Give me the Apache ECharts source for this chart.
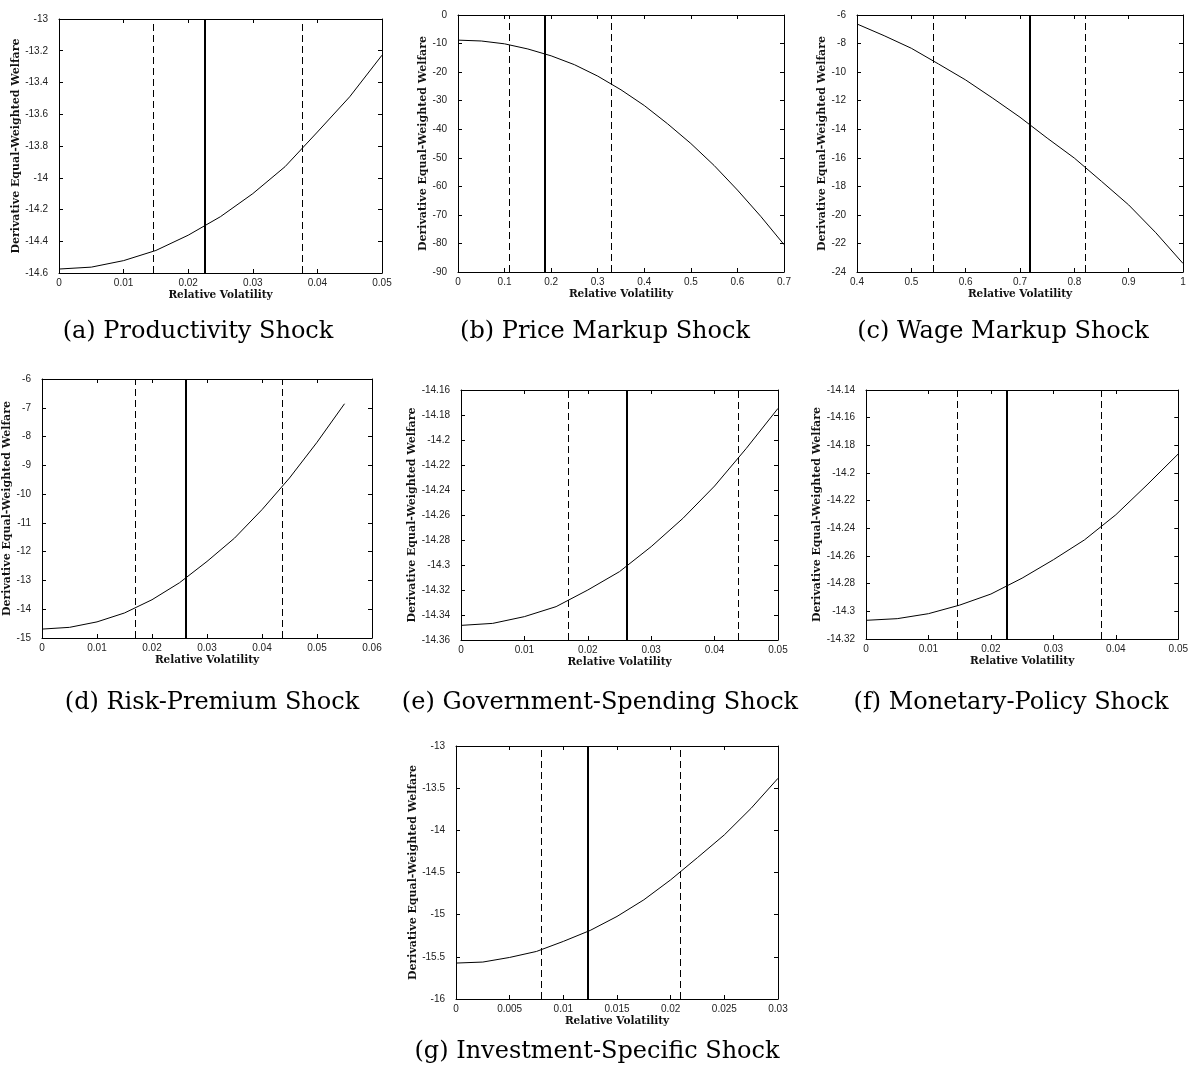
<!DOCTYPE html>
<html>
<head>
<meta charset="utf-8">
<script src="https://cdn.jsdelivr.net/npm/echarts@6/dist/echarts.min.js"></script>
<style>
html,body{margin:0;padding:0;background:#fff;}
#chart{width:1191px;height:1072px;}
</style>
</head>
<body>
<div id="chart"></div>
<script>
// ---------- data ----------
const captions = ["(a) Productivity Shock","(b) Price Markup Shock","(c) Wage Markup Shock",
  "(d) Risk-Premium Shock","(e) Government-Spending Shock","(f) Monetary-Policy Shock","(g) Investment-Specific Shock"];

const prodX = [0,0.005,0.01,0.015,0.02,0.025,0.03,0.035,0.04,0.045,0.05];
const prodY = [-14.575,-14.563,-14.522,-14.458,-14.362,-14.245,-14.100,-13.930,-13.712,-13.490,-13.228];
const prodV = [0.0146,0.0225,0.0376];

const priceX = [0,0.05,0.1,0.15,0.2,0.25,0.3,0.35,0.4,0.45,0.5,0.55,0.6,0.65,0.7];
const priceY = [-8.8,-9.1,-10.1,-11.9,-14.3,-17.4,-21.4,-26.2,-31.7,-38.1,-45.0,-52.7,-61.3,-70.5,-80.4];
const priceV = [0.109,0.187,0.33];

const wageX = [0.4,0.45,0.5,0.55,0.6,0.65,0.7,0.75,0.8,0.85,0.9,0.95,1.0];
const wageY = [-6.63,-7.45,-8.33,-9.43,-10.55,-11.83,-13.16,-14.62,-16.02,-17.65,-19.30,-21.25,-23.40];
const wageV = [0.54,0.718,0.82];

const riskX = [0,0.005,0.01,0.015,0.02,0.025,0.03,0.035,0.04,0.045,0.05,0.055];
const riskY = [-14.69,-14.63,-14.44,-14.13,-13.67,-13.08,-12.34,-11.53,-10.54,-9.44,-8.20,-6.86];
const riskV = [0.0169,0.0261,0.0437];

const govX = [0,0.005,0.01,0.015,0.02,0.025,0.03,0.035,0.04,0.045,0.05];
const govY = [-14.3483,-14.3467,-14.3413,-14.3333,-14.3200,-14.3053,-14.2853,-14.2627,-14.2368,-14.2067,-14.1747];
const govV = [0.0169,0.0261,0.0437];

const monX = [0,0.005,0.01,0.015,0.02,0.025,0.03,0.035,0.04,0.045,0.05];
const monY = [-14.3065,-14.3053,-14.3017,-14.2955,-14.2875,-14.2760,-14.2627,-14.2483,-14.2302,-14.2086,-14.1862];
const monV = [0.0146,0.0226,0.0376];

const invX = [0,0.0025,0.005,0.0075,0.01,0.0125,0.015,0.0175,0.02,0.0225,0.025,0.0275,0.03];
const invY = [-15.574,-15.562,-15.507,-15.436,-15.317,-15.187,-15.021,-14.824,-14.587,-14.323,-14.054,-13.738,-13.383];
const invV = [0.0079,0.0123,0.0209];

// axis ranges [xmin,xmax,xint,ymin,ymax,yint]
const rangeA = [0,0.05,0.01,-14.6,-13,0.2];
const rangeB = [0,0.7,0.1,-90,0,10];
const rangeC = [0.4,1,0.1,-24,-6,2];
const rangeD = [0,0.06,0.01,-15,-6,1];
const rangeE = [0,0.05,0.01,-14.36,-14.16,0.02];
const rangeF = [0,0.05,0.01,-14.32,-14.14,0.02];
const rangeG = [0,0.03,0.005,-16,-13,0.5];

const xTitle = "Relative Volatility";
const yTitle = "Derivative Equal-Weighted Welfare";

// ---------- layout ----------
const panels = [
  {x:prodX, y:prodY, v:prodV, r:rangeA, g:{left:59, top:19, width:323, height:254}, yGap:30, cap:[198,332]},
  {x:priceX,y:priceY,v:priceV,r:rangeB, g:{left:458,top:15, width:326, height:257}, yGap:24, cap:[605,332]},
  {x:wageX, y:wageY, v:wageV, r:rangeC, g:{left:857,top:15, width:326, height:257}, yGap:24, cap:[1003,332]},
  {x:riskX, y:riskY, v:riskV, r:rangeD, g:{left:42, top:379,width:330, height:259}, yGap:22, cap:[212,703]},
  {x:govX,  y:govY,  v:govV,  r:rangeE, g:{left:461,top:390,width:317, height:250}, yGap:37, cap:[600,703]},
  {x:monX,  y:monY,  v:monV,  r:rangeF, g:{left:866,top:390,width:317, height:249}, yGap:36, cap:[1011,703]},
  {x:invX,  y:invY,  v:invV,  r:rangeG, g:{left:456,top:746,width:322, height:253}, yGap:32, cap:[597,1052]}
];

const tickFont = {fontFamily:'Liberation Sans, Arial, sans-serif', fontSize:10, color:'#222'};
const nameFont = {fontFamily:'DejaVu Serif, serif', fontSize:10.5, fontWeight:'bold', color:'#111'};
const axisLine = {show:true, onZero:false, lineStyle:{color:'#000', width:1}};
const axisTick = {show:true, inside:true, length:4, lineStyle:{color:'#000', width:1}};

const grid=[], xAxis=[], yAxis=[], series=[], graphic=[];
panels.forEach((p,i)=>{
  grid.push(Object.assign({containLabel:false}, p.g));
  const [x0,x1,xi,y0,y1,yi] = p.r;
  xAxis.push({type:'value', gridIndex:i, min:x0, max:x1, interval:xi, position:'bottom',
    axisLine, axisTick, splitLine:{show:false},
    axisLabel:Object.assign({margin:5, showMinLabel:true, showMaxLabel:true}, tickFont),
    name:xTitle, nameLocation:'middle', nameGap:17, nameTextStyle:nameFont});
  xAxis.push({type:'value', gridIndex:i, min:x0, max:x1, interval:xi, position:'top',
    axisLine, axisTick, splitLine:{show:false}, axisLabel:{show:false}});
  yAxis.push({type:'value', gridIndex:i, min:y0, max:y1, interval:yi, position:'left',
    axisLine, axisTick, splitLine:{show:false},
    axisLabel:Object.assign({margin:11, showMinLabel:true, showMaxLabel:true}, tickFont),
    name:yTitle, nameLocation:'middle', nameGap:p.yGap, nameRotate:90,
    nameTextStyle:Object.assign({}, nameFont, {fontSize:11})});
  yAxis.push({type:'value', gridIndex:i, min:y0, max:y1, interval:yi, position:'right',
    axisLine, axisTick, splitLine:{show:false}, axisLabel:{show:false}});
  series.push({
    type:'line', xAxisIndex:2*i, yAxisIndex:2*i, symbol:'none', smooth:false,
    lineStyle:{color:'#000', width:1}, silent:true,
    data:p.x.map((xv,k)=>[xv,p.y[k]]),
    markLine:{silent:true, precision:6, symbol:['none','none'], label:{show:false}, animation:false,
      data:[
        {xAxis:p.v[0], lineStyle:{color:'#000', width:1, type:[7,4]}},
        {xAxis:p.v[1], lineStyle:{color:'#000', width:2, type:'solid'}},
        {xAxis:p.v[2], lineStyle:{color:'#000', width:1, type:[7,4]}}
      ]}
  });
  graphic.push({type:'text', x:p.cap[0], y:p.cap[1],
    style:{text:captions[i], textAlign:'center', textVerticalAlign:'middle',
      font:'24px "DejaVu Serif", serif', fill:'#000'}});
});

const chart = echarts.init(document.getElementById('chart'), null, {renderer:'canvas'});
chart.setOption({animation:false, backgroundColor:'#fff', grid, xAxis, yAxis, series, graphic});
</script>
</body>
</html>
